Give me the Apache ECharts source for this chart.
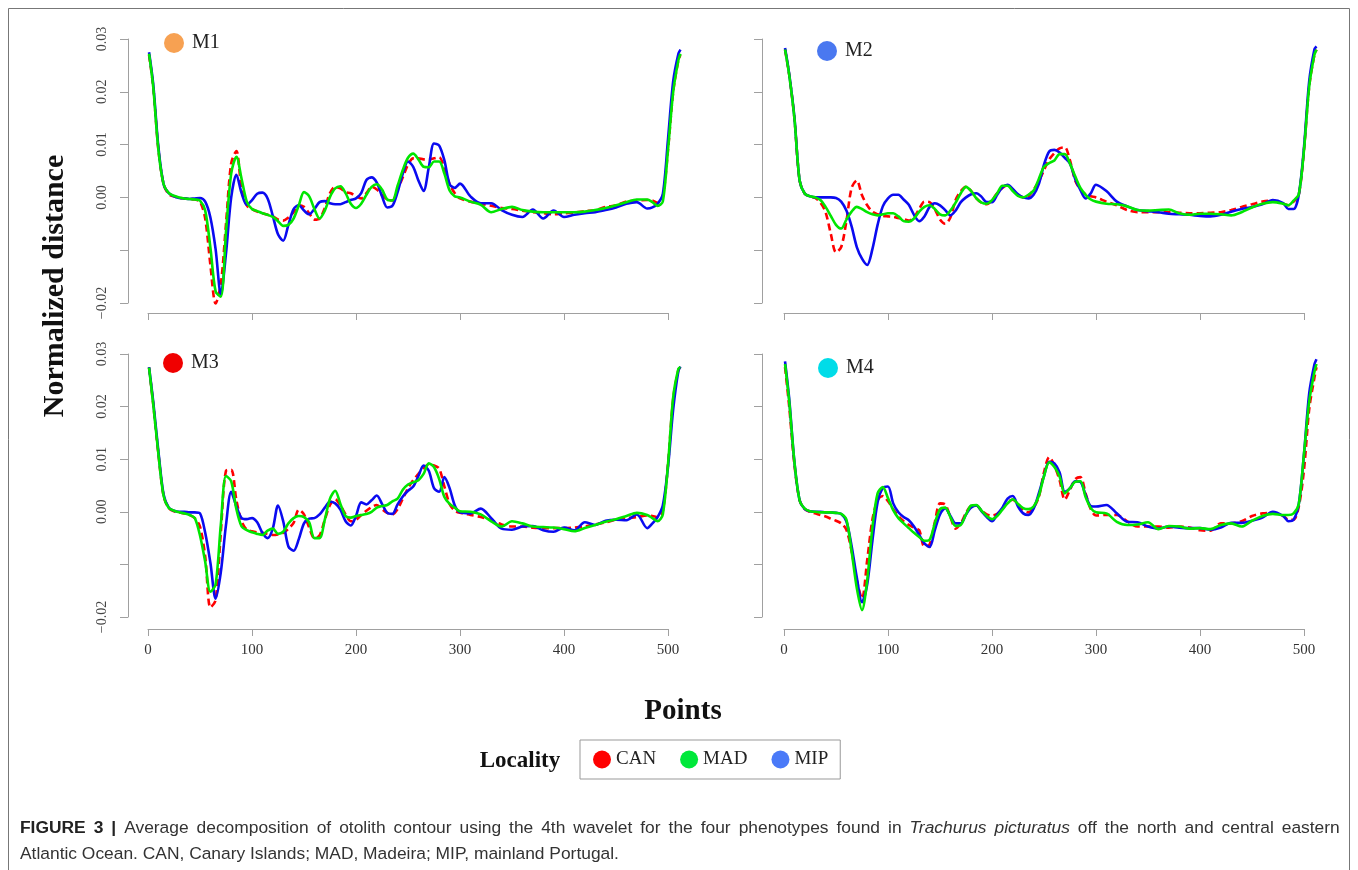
<!doctype html>
<html>
<head>
<meta charset="utf-8">
<title>Otolith contour - 4th wavelet</title>
<script src="https://cdn.jsdelivr.net/npm/echarts@6/dist/echarts.min.js"></script>
<style>
html, body { margin: 0; padding: 0; background: #fff; }
#main { width: 1358px; height: 870px; }
</style>
</head>
<body>
<div id="main"></div>
<script type="text/javascript">
// points along the contour (shared by every curve)
var xs = [1, 5, 10, 15,
  20, 25, 30, 35, 40, 45, 50, 55, 60, 65,
  70, 75, 80, 85, 90, 95, 100, 105, 110, 115,
  120, 125, 130, 135, 140, 145, 150, 155, 160, 165,
  170, 175, 180, 185, 190, 195, 200, 205, 210, 215,
  220, 225, 230, 235, 240, 245, 250, 255, 260, 265,
  270, 275, 280, 285, 290, 295, 300,
  310, 320, 330, 340, 350, 360, 370, 380, 390, 400,
  410, 420, 430, 440, 450, 460, 470, 480,
  485, 490, 495, 500, 505, 510, 512];

// M1
var m1Can = [.027, .021, .009, .0025,
  .0006, .0002, -.0001, -.0002, -.0003, -.0004, -.0008, -.004, -.0128, -.0201,
  -.0165, -.005, .0065, .0088, .0015, -.0015, -.0022, -.0027, -.003, -.0033,
  -.0036, -.0042, -.0044, -.0038, -.0028, -.0015, -.0018, -.003, -.0042, -.004,
  -.002, .0008, .002, .0017, .001, .0008, .0002, -.0002, .0008, .002,
  .0015, .0005, -.0004, -.0006, .0015, .0038, .0062, .0074, .0074, .0072,
  .0072, .0074, .0076, .0055, .0025, .0008, -.0002,
  -.0008, -.0012, -.0016, -.002, -.0022, -.0025, -.0028, -.003, -.0032, -.003,
  -.0029, -.0026, -.0024, -.0018, -.0015, -.0008, -.0006, -.0005,
  -.0006, -.001, .0002, .009, .02, .026, .027];
var m1Mad = [.0272, .021, .009, .0025,
  .0008, .0003, 0, -.0002, -.0003, -.0004, -.0006, -.0025, -.0095, -.0178,
  -.0188, -.0065, .0045, .0077, .0035, -.0008, -.0022, -.0026, -.003, -.0033,
  -.0037, -.0045, -.0054, -.0052, -.004, -.0015, .001, .0002, -.0022, -.004,
  -.0025, .0001, .0017, .0021, .0008, -.0012, -.002, -.0012, .0005, .002,
  .0025, .0015, -.0004, -.0006, .0022, .0052, .0075, .0083, .0072, .0058,
  .0057, .0068, .0068, .0045, .0013, .0002, 0,
  -.0008, -.0014, -.0028, -.0022, -.0018, -.0024, -.0027, -.0028, -.0028, -.0028,
  -.0028, -.0027, -.0024, -.002, -.0015, -.0009, -.0004, -.0004,
  -.0009, -.0016, -.0008, .009, .02, .026, .0272];
var m1Mip = [.0275, .0215, .0095, .0025,
  .0008, .0002, -.0001, -.0002, -.0003, -.0002, -.0001, -.0008, -.0038, -.0098,
  -.0183, -.0106, 0, .0043, .0008, -.0014, -.0005, .0007, .0009, -.0002,
  -.0035, -.007, -.0082, -.0052, -.0022, -.0015, -.0025, -.0032, -.0022, -.0009,
  -.0007, -.0011, -.0013, -.0013, -.0009, -.0005, -.0002, .0008, .0033, .0038,
  .0028, .0002, -.0019, -.0016, .001, .0045, .0068, .0058, .0032, .0012,
  .0057, .0102, .0098, .007, .0025, .0018, .0026,
  .0002, -.0011, -.0011, -.0024, -.0033, -.0037, -.0023, -.004, -.0025, -.0037,
  -.0033, -.003, -.0028, -.0024, -.0019, -.0012, -.0009, -.0021,
  -.0019, -.0012, .0006, .011, .022, .0272, .028];

// M2
var m2Can = [.028, .0232, .015, .0032,
  .0007, .0002, -.0001, -.001, -.0028, -.0069, -.0104, -.0094, -.0045, .0018,
  .0032, .0004, -.0015, -.0027, -.0032, -.0035, -.0036, -.0037, -.0039, -.0041,
  -.0044, -.0038, -.0022, -.0008, -.0009, -.0022, -.0042, -.005, -.0038, -.0005,
  .0012, .002, .0012, -.0002, -.001, -.0013, -.0005, .0008, .0018, .0023,
  .0015, .0005, 0, .0002, .0015, .003, .0052, .0072, .0084, .0093,
  .0095, .007, .0032, .0015, .0006, .0002, 0,
  -.0008, -.0015, -.0024, -.0028, -.0028, -.0028, -.0028, -.0029, -.003, -.003,
  -.0029, -.0028, -.0024, -.0018, -.0013, -.0008, -.0006, -.0012,
  -.0015, -.0008, .0005, .009, .021, .027, .028];
var m2Mad = [.028, .0232, .015, .0032,
  .0007, .0002, 0, -.0005, -.0018, -.0035, -.0052, -.0059, -.0042, -.0027,
  -.0018, -.0022, -.0028, -.0032, -.0034, -.0032, -.003, -.003, -.0036, -.0045,
  -.0046, -.004, -.0027, -.0018, -.0015, -.0022, -.0032, -.0034, -.0025, -.001,
  .0008, .002, .0012, -.0002, -.001, -.0012, -.0005, .0008, .0022, .0022,
  .0012, .0003, 0, .0005, .0013, .0035, .0058, .0065, .007, .0082,
  .0082, .0064, .004, .0018, .0005, -.0004, -.0008,
  -.0012, -.0013, -.0017, -.0024, -.0025, -.0024, -.0023, -.003, -.0033, -.0031,
  -.0031, -.0032, -.0034, -.0028, -.0019, -.0012, -.0009, -.0012,
  -.0015, -.0006, .0006, .009, .021, .027, .028];
var m2Mip = [.0283, .0234, .0152, .0032,
  .0007, .0002, 0, 0, 0, 0, -.0001, -.0008, -.0025, -.0055,
  -.0094, -.0116, -.0128, -.0098, -.0052, -.0017, -.0002, .0005, .0005, -.0004,
  -.0014, -.0033, -.0045, -.0036, -.0018, -.0011, -.0015, -.0024, -.0034, -.0025,
  -.0009, 0, .0006, .0008, .0001, -.0009, -.0009, .0005, .0019, .0024,
  .0016, .0006, 0, -.0002, .0005, .0025, .0062, .0087, .009, .0085,
  .0075, .0064, .0035, .0014, -.0002, .0008, .0024,
  .0012, -.0008, -.0017, -.0024, -.0026, -.0028, -.0031, -.0032, -.0033, -.0035,
  -.0036, -.0033, -.0027, -.0022, -.0018, -.0013, -.0005, -.0011,
  -.0022, -.0022, .0005, .0095, .022, .028, .0286];

// M3
var m3Can = [.0274, .0205, .011, .003,
  .0007, .0001, -.0001, -.0003, -.0006, -.0012, -.0028, -.0085, -.0182, -.0168,
  -.004, .0078, .008, .0022, -.0018, -.0034, -.0037, -.0039, -.004, -.0042,
  -.0044, -.0043, -.004, -.0032, -.0021, .0004, -.0005, -.003, -.005, -.0045,
  -.0015, .0013, .0024, .0012, -.0005, -.0018, -.0015, -.0006, .0002, .0009,
  .0013, .0005, -.0002, -.0005, .0005, .0025, .0045, .006, .0072, .0083,
  .009, .0088, .0082, .0048, .0015, .0002, -.0002,
  -.0006, -.001, -.0016, -.0024, -.0028, -.0028, -.003, -.0031, -.0031, -.0031,
  -.003, -.0028, -.0024, -.002, -.0015, -.0012, -.001, -.0007,
  -.0008, -.001, .0002, .009, .0215, .027, .0275];
var m3Mad = [.0274, .0205, .011, .003,
  .0007, .0002, -.0001, -.0003, -.0006, -.0012, -.0045, -.0095, -.0152, -.0138,
  -.0025, .0068, .0058, .0005, -.0028, -.0035, -.0039, -.0042, -.0044, -.0036,
  -.0032, -.0042, -.0038, -.0022, -.0012, -.0008, -.001, -.002, -.005, -.005,
  -.0015, .0025, .004, .0015, -.0008, -.0011, -.0008, -.0006, -.0004, 0,
  .0008, .0011, .0013, .002, .0025, .0042, .0052, .0056, .006, .0072,
  .0092, .0085, .0062, .0028, .0015, .0008, .0001,
  0, -.0005, -.0018, -.0028, -.0018, -.0022, -.0028, -.0029, -.003, -.0033,
  -.0037, -.0031, -.0025, -.0019, -.0014, -.0008, -.0002, -.0006,
  -.0012, -.0018, -.0005, .009, .0218, .0272, .0275];
var m3Mip = [.0275, .021, .0115, .0033,
  .0008, .0002, 0, 0, -.0001, -.0001, -.0003, -.004, -.0097, -.0165,
  -.0115, -.0025, .0038, .001, -.0012, -.0014, -.0012, -.002, -.004, -.005,
  -.0032, .0012, -.0018, -.0066, -.0074, -.0052, -.0022, -.0013, -.0012, -.0005,
  .0008, .0019, .0016, .0004, -.0018, -.0026, -.0008, .0018, .0014, .0022,
  .0031, .0015, -.0002, -.0004, .0014, .0029, .004, .0048, .0068, .0088,
  .0078, .0045, .0038, .0066, .0045, .0012, -.0001,
  -.0003, .0006, -.0012, -.0032, -.0034, -.0028, -.0027, -.0035, -.0038, -.003,
  -.0035, -.002, -.0025, -.0017, -.0015, -.0016, -.0005, -.0031,
  -.0022, -.001, .0012, .0085, .0195, .0268, .0276];

// M4
var m4Can = [.0275, .02, .009, .0022,
  .0005, 0, -.0003, -.0006, -.0009, -.0013, -.0017, -.0022, -.0034, -.0075,
  -.013, -.0165, -.0092, -.0015, .0022, .003, .002, .0005, -.0008, -.0018,
  -.0025, -.003, -.0035, -.0066, -.0062, -.002, .0016, .0014, -.001, -.0032,
  -.0022, -.0002, .0011, .0012, .0002, -.0005, -.0007, -.0004, .0006, .0018,
  .0023, .0015, .0003, -.0001, .0008, .0028, .0075, .0104, .0088, .006,
  .0023, .0042, .0062, .0066, .0035, .0005, -.0007,
  -.0006, -.0006, -.0018, -.0028, -.0028, -.0028, -.003, -.0028, -.003, -.0035,
  -.0036, -.0022, -.0022, -.0018, -.0008, -.0003, -.0002, -.0008,
  -.0015, -.0015, .001, .008, .0195, .0255, .0275];
var m4Mad = [.0281, .021, .0095, .0022,
  .0006, .0001, 0, -.0001, -.0001, -.0001, -.0002, -.0004, -.0015, -.0075,
  -.0145, -.0187, -.013, -.003, .0035, .0047, .0026, .0003, -.0012, -.0022,
  -.0031, -.004, -.0048, -.0055, -.0053, -.0022, .0005, .0008, -.001, -.0027,
  -.0025, -.0005, .0012, .0013, .0002, -.0008, -.0014, -.0008, .0004, .0016,
  .0024, .0015, .0007, .0005, .001, .003, .0068, .0094, .0085, .0067,
  .0035, .0045, .0057, .0058, .0028, .0007, -.0001,
  -.0003, -.0019, -.0025, -.0024, -.002, -.0033, -.0027, -.0028, -.0032, -.0031,
  -.0033, -.0025, -.0022, -.0028, -.0017, -.0008, -.0004, -.0006,
  -.0006, -.0003, .0015, .011, .021, .0266, .0281];
var m4Mip = [.0286, .0215, .0095, .0022,
  .0005, .0001, 0, 0, -.0001, -.0001, -.0002, -.0004, -.0018, -.0065,
  -.0125, -.0172, -.0138, -.0055, .0018, .0045, .0048, .0016, -.0001, -.001,
  -.0016, -.0028, -.0044, -.006, -.0067, -.0035, -.0005, .0007, -.0008, -.0022,
  -.0022, -.0005, .0008, .0012, .0001, -.001, -.0018, -.0005, .0008, .0025,
  .003, .001, -.0003, -.0006, .0006, .0035, .0068, .0095, .0092, .0075,
  .0038, .0045, .0058, .0057, .0032, .0011, .001,
  .0013, -.0003, -.0019, -.002, -.0028, -.0032, -.0028, -.003, -.0031, -.0031,
  -.0034, -.003, -.0021, -.0021, -.0017, -.0011, 0, -.0008,
  -.0018, -.0015, .0015, .011, .0225, .028, .029];

var panelNames = ['M1', 'M2', 'M3', 'M4'];
var localities = ['CAN', 'MAD', 'MIP'];

var panelData = [
  [m1Can, m1Mad, m1Mip],
  [m2Can, m2Mad, m2Mip],
  [m3Can, m3Mad, m3Mip],
  [m4Can, m4Mad, m4Mip]
];

var myChart = echarts.init(document.getElementById('main'));

var serif = 'Liberation Serif';
var axisGray = '#a0a0a0';
var lineColors = { CAN: '#ff0000', MAD: '#00e600', MIP: '#0a0af0' };
var legendColors = { CAN: '#ff0000', MAD: '#00e83a', MIP: '#4a7af8' };
var tagColors = ['#f7a152', '#4a78f0', '#f00000', '#00dce8'];
var tagPos = [[174, 43], [827, 51], [173, 363], [828, 368]];

// panel frames: axis grids span ticks 0..500, data grids span 0..512 (same scale)
var pxPerPoint = 1.04;
var panelBox = [
  { left: 148, top: 39, height: 264 },
  { left: 784, top: 39, height: 264 },
  { left: 148, top: 354, height: 263 },
  { left: 784, top: 354, height: 263 }
];
var grids = [];
panelBox.forEach(function (b) {
  grids.push({ left: b.left, top: b.top, height: b.height, width: 500 * pxPerPoint });
});
panelBox.forEach(function (b) {
  grids.push({ left: b.left, top: b.top, height: b.height, width: 512 * pxPerPoint });
});

function yFmt(v) {
  if (Math.abs(v + 0.01) < 1e-6) return '';
  var s = Math.abs(v).toFixed(2);
  return v < -1e-6 ? '\u2212' + s : s;
}

function pairs(ys) {
  var out = [];
  for (var i = 0; i < xs.length; i++) out.push([xs[i], ys[i]]);
  return out;
}

var xAxes = [], yAxes = [], series = [], graphics = [];

// visible axes
for (var p = 0; p < 4; p++) {
  var isLeft = (p % 2 === 0), isBottom = (p >= 2);
  xAxes.push({
    gridIndex: p, type: 'value', min: 0, max: 500, interval: 100,
    offset: isBottom ? 12 : 10,
    axisLine: { show: true, onZero: false, lineStyle: { color: axisGray, width: 1 } },
    axisTick: { show: true, length: 7, lineStyle: { color: axisGray } },
    axisLabel: { show: isBottom, margin: 14, fontFamily: serif, fontSize: 15, color: '#333' },
    splitLine: { show: false }
  });
  yAxes.push({
    gridIndex: p, type: 'value', min: -0.02, max: 0.03, interval: 0.01,
    offset: isLeft ? 20 : 22,
    axisLine: { show: true, onZero: false, lineStyle: { color: axisGray, width: 1 } },
    axisTick: { show: true, length: 8, lineStyle: { color: axisGray } },
    axisLabel: { show: isLeft, rotate: 90, margin: 19, fontFamily: serif, fontSize: 14, color: '#444', formatter: yFmt },
    splitLine: { show: false }
  });
}
// data axes (hidden)
for (var q = 0; q < 4; q++) {
  xAxes.push({ gridIndex: 4 + q, type: 'value', min: 0, max: 512, show: false });
  yAxes.push({ gridIndex: 4 + q, type: 'value', min: -0.02, max: 0.03, show: false });
  // draw order: CAN (dashed) underneath, then MIP, then MAD on top
  [0, 2, 1].forEach(function (k) {
    var name = localities[k];
    series.push({
      name: name, type: 'line', xAxisIndex: 4 + q, yAxisIndex: 4 + q,
      data: pairs(panelData[q][k]),
      showSymbol: false, smooth: 0.3, clip: false,
      lineStyle: { color: lineColors[name], width: 2.6, type: name === 'CAN' ? [7, 4] : 'solid' },
      itemStyle: { color: lineColors[name] },
      emphasis: { disabled: true }
    });
  });
  graphics.push({ type: 'circle', shape: { cx: tagPos[q][0], cy: tagPos[q][1], r: 10 }, style: { fill: tagColors[q] } });
  graphics.push({
    type: 'text', x: tagPos[q][0] + 18, y: tagPos[q][1],
    style: { text: panelNames[q], font: '20px "Liberation Serif"', fill: '#222', textVerticalAlign: 'middle' }
  });
}

// outer frame
graphics.push({ type: 'rect', shape: { x: 8.5, y: 8.5, width: 1341, height: 880 }, style: { fill: 'none', stroke: '#777', lineWidth: 1 }, z: -1 });
// axis titles
graphics.push({
  type: 'text', x: 55, y: 286, rotation: Math.PI / 2,
  style: { text: 'Normalized distance', font: 'bold 30px "Liberation Serif"', fill: '#111', textAlign: 'center', textVerticalAlign: 'middle' }
});
graphics.push({
  type: 'text', x: 683, y: 712,
  style: { text: 'Points', font: 'bold 29px "Liberation Serif"', fill: '#111', textAlign: 'center', textVerticalAlign: 'middle' }
});
graphics.push({
  type: 'text', x: 520, y: 761,
  style: { text: 'Locality', font: 'bold 23px "Liberation Serif"', fill: '#111', textAlign: 'center', textVerticalAlign: 'middle' }
});

// caption; first line is justified in the original, so its spaces are widened
var capSize = 17.4;
var capLine1 = ['{b|FIGURE}', '{b|3}', '{b||}', 'Average', 'decomposition', 'of', 'otolith', 'contour',
  'using', 'the', '4th', 'wavelet', 'for', 'the', 'four', 'phenotypes', 'found', 'in',
  '{i|Trachurus}', '{i|picturatus}', 'off', 'the', 'north', 'and', 'central', 'eastern'].join('{s| }');
var capLine2 = 'Atlantic Ocean. CAN, Canary Islands; MAD, Madeira; MIP, mainland Portugal.';
graphics.push({
  type: 'text', x: 20, y: 815,
  style: {
    text: capLine1 + '\n' + capLine2,
    fontSize: capSize, fontFamily: 'Liberation Sans', fill: '#333', lineHeight: 26,
    rich: {
      b: { fontSize: capSize, fontFamily: 'Liberation Sans', fontWeight: 'bold', fill: '#222', lineHeight: 26 },
      i: { fontSize: capSize, fontFamily: 'Liberation Sans', fontStyle: 'italic', fill: '#333', lineHeight: 26 },
      s: { fontSize: 28.7, fontFamily: 'Liberation Sans', fill: '#333', lineHeight: 26 }
    }
  }
});

option = {
  animation: false,
  backgroundColor: '#fff',
  grid: grids,
  xAxis: xAxes,
  yAxis: yAxes,
  legend: {
    left: 580, top: 740,
    padding: [10, 12, 10, 13],
    itemGap: 24, itemWidth: 18, itemHeight: 18, itemTextGap: 5,
    icon: 'circle',
    borderColor: '#999', borderWidth: 1,
    selectedMode: false,
    textStyle: { fontFamily: serif, fontSize: 19, color: '#222' },
    data: localities.map(function (n) {
      return { name: n, icon: 'circle', itemStyle: { color: legendColors[n], borderWidth: 0 } };
    })
  },
  series: series,
  graphic: graphics
};

myChart.setOption(option);
</script>
</body>
</html>
